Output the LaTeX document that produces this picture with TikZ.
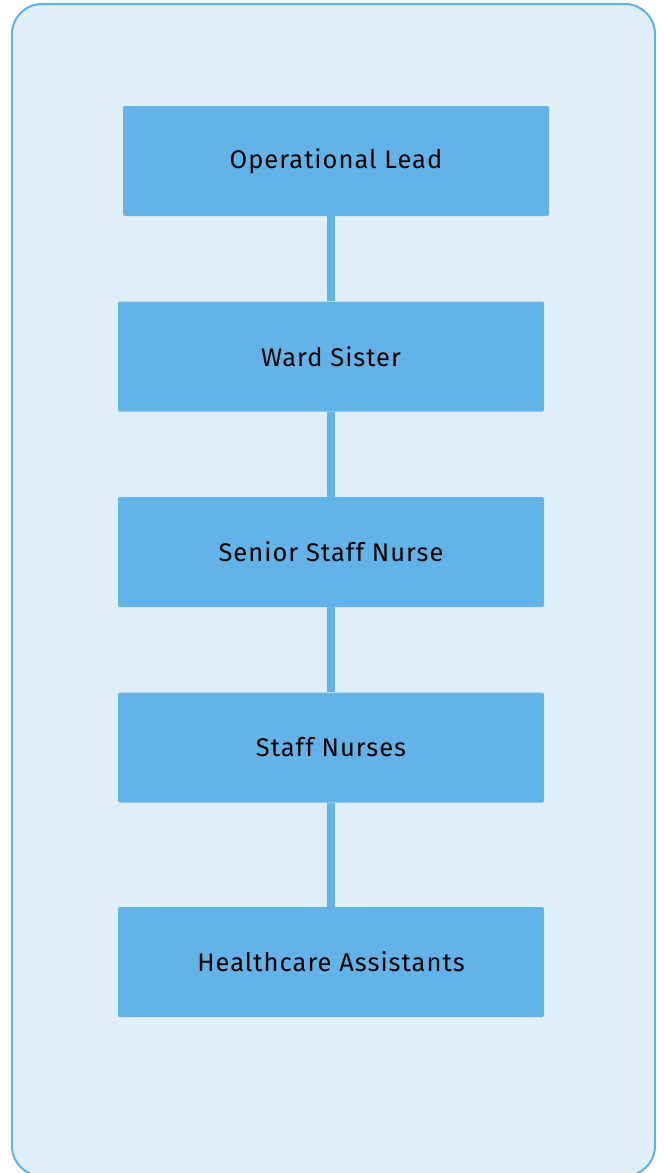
\documentclass[tikz,border=0pt]{standalone}
\usepackage{fontspec}
\setmainfont{Fira Sans}[LetterSpace=4]
\definecolor{panelfill}{HTML}{DFEFF9}
\definecolor{panelline}{HTML}{62B0E8}
\definecolor{boxfill}{HTML}{63B2E8}
\begin{document}
\begin{tikzpicture}[x=1pt,y=-1pt,
  rolebox/.style={fill=boxfill, draw=none, rounded corners=1.5pt, minimum width=426pt, minimum height=110pt, inner sep=0pt, font=\fontsize{25.5}{28}\selectfont, text=black},
  link/.style={draw=boxfill, line width=8pt}]
\useasboundingbox (0,0) rectangle (664,1173);
\begin{scope}
\clip (0,0) rectangle (664,1173);
\draw[fill=panelfill, draw=panelline, line width=2pt, rounded corners=30pt] (12,4) rectangle (655,1176);
\end{scope}
\node[rolebox] (ol) at (336,161) {Operational Lead};
\node[rolebox] (ws) at (331,356.5) {Ward Sister};
\node[rolebox] (ssn) at (331,552) {Senior Staff Nurse};
\node[rolebox] (sn) at (331,747.5) {Staff Nurses};
\node[rolebox] (hca) at (331,962) {Healthcare Assistants};
\draw[link] (ws.north) -- (ws.north |- ol.south);
\draw[link] (ws.south) -- (ssn.north);
\draw[link] (ssn.south) -- (sn.north);
\draw[link] (sn.south) -- (hca.north);
\end{tikzpicture}
\end{document}
